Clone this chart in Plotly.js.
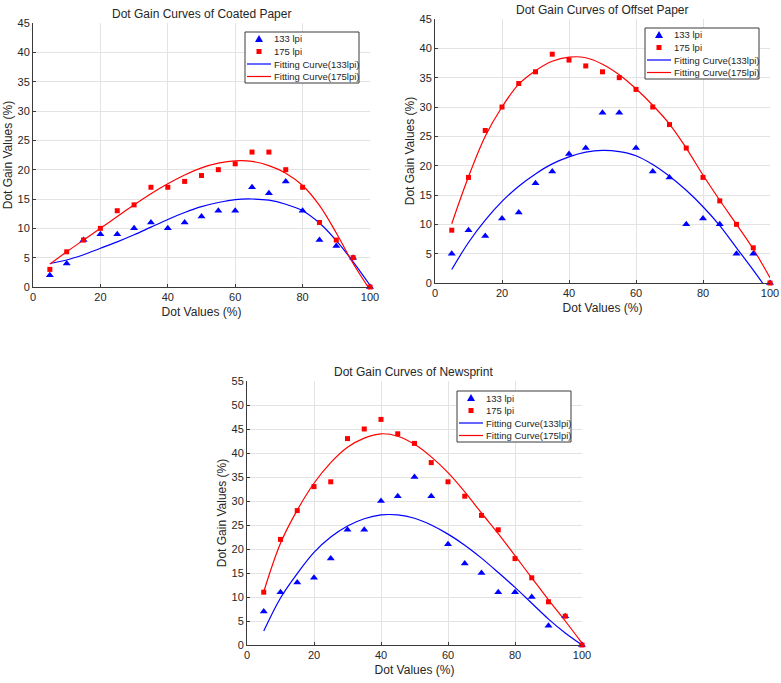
<!DOCTYPE html>
<html><head><meta charset="utf-8">
<script src="https://cdn.plot.ly/plotly-3.0.1.min.js"></script>
<style>html,body{margin:0;padding:0;background:#fff}#chart{width:781px;height:683px}</style>
</head><body><div id="chart"></div>
<script>
// ---- data ----
const dotValues = [5,10,15,20,25,30,35,40,45,50,55,60,65,70,75,80,85,90,95,100];

const coated133 = [2,4,8,9,9,10,11,10,11,12,13,13,17,16,18,13,8,7,5,0];
const coated175 = [3,6,8,10,13,14,17,17,18,19,20,21,23,23,20,17,11,8,5,0];
const offset133 = [5,9,8,11,12,17,19,22,23,29,29,23,19,18,10,11,10,5,5,0];
const offset175 = [9,18,26,30,34,36,39,38,37,36,35,33,30,27,23,18,14,10,6,0];
const news133   = [7,11,13,14,18,24,24,30,31,35,31,21,17,15,11,11,10,4,6,0];
const news175   = [11,22,28,33,34,43,45,47,44,42,38,34,31,27,24,18,14,9,6,0];

// fitting curves (values at each dot value)
const fitX = [5,10,15,20,25,30,35,40,45,50,55,60,65,70,75,80,85,90,95,100];
const coatedFit133 = [4.0,4.6,5.5,6.6,7.7,8.9,10.2,11.5,12.7,13.7,14.4,14.9,15.0,14.8,14.1,13.0,10.9,7.9,4.3,0.3];
const coatedFit175 = [3.9,6.0,8.0,10.0,12.0,14.0,15.9,17.6,19.1,20.3,21.1,21.5,21.4,20.7,19.4,17.3,13.9,9.2,4.0,-0.5];
const offsetFit133 = [2.3,6.9,10.7,13.9,16.5,18.6,20.3,21.5,22.3,22.6,22.4,21.7,20.2,18.2,15.8,13.0,9.8,6.0,2.2,-1.8];
const offsetFit175 = [10.1,18.1,25.0,30.0,33.9,36.2,37.8,38.5,38.4,37.3,35.5,33.1,30.3,27.1,23.0,18.4,14.1,10.0,5.8,0.9];
const newsFit133   = [2.9,9.8,14.9,19.3,22.5,24.8,26.3,27.1,27.1,26.4,25.0,23.1,20.8,18.1,15.1,12.0,8.7,5.4,2.5,0.0];
const newsFit175   = [11.1,21.2,28.1,33.7,38.0,41.2,43.1,44.0,43.5,41.8,39.2,35.9,31.9,27.5,23.2,18.6,14.0,9.4,5.0,0.4];

const titles = ["Dot Gain Curves of Coated Paper","Dot Gain Curves of Offset Paper","Dot Gain Curves of Newsprint"];
const legendLabels = ["133 lpi","175 lpi","Fitting Curve(133lpi)","Fitting Curve(175lpi)"];
const xTitle = "Dot Values (%)";
const yTitle = "Dot Gain Values (%)";

// ---- layout helpers ----
const W = 781, H = 683;
const px = v => v / W;
const py = v => 1 - v / H;
const BLUE = "#0000ff", RED = "#ff0000";
const FONT = "Liberation Sans, Arial, sans-serif";

const panels = [
  {pts:[coated133,coated175], fits:[coatedFit133,coatedFit175],
   box:[33,370,23,287], ymax:45, title:[201,14], legend:[245,32]},
  {pts:[offset133,offset175], fits:[offsetFit133,offsetFit175],
   box:[435,770,19,283], ymax:45, title:[602,10], legend:[645,28]},
  {pts:[news133,news175], fits:[newsFit133,newsFit175],
   box:[247,582,381,645], ymax:55, title:[414,372], legend:[457,391]}
];

const traces = [];
const layout = {
  width: W, height: H, margin:{l:0,r:0,t:0,b:0},
  paper_bgcolor:"#fff", plot_bgcolor:"#fff", showlegend:false,
  font:{family:FONT, color:"#262626", size:11},
  annotations:[], shapes:[]
};

panels.forEach((p, i) => {
  const n = i === 0 ? "" : String(i+1);
  const xa = "x"+n, ya = "y"+n;
  traces.push({x:fitX, y:p.fits[0], xaxis:xa, yaxis:ya, mode:"lines", type:"scatter",
    line:{color:BLUE, width:1.2, shape:"spline", smoothing:1}, name:legendLabels[2]});
  traces.push({x:fitX, y:p.fits[1], xaxis:xa, yaxis:ya, mode:"lines", type:"scatter",
    line:{color:RED, width:1.2, shape:"spline", smoothing:1}, name:legendLabels[3]});
  traces.push({x:dotValues, y:p.pts[0], xaxis:xa, yaxis:ya, mode:"markers", type:"scatter",
    marker:{symbol:"triangle-up", size:7, color:BLUE}, name:legendLabels[0], cliponaxis:false});
  traces.push({x:dotValues, y:p.pts[1], xaxis:xa, yaxis:ya, mode:"markers", type:"scatter",
    marker:{symbol:"square", size:5, color:RED}, name:legendLabels[1], cliponaxis:false});

  const [l,r,t,b] = p.box;
  layout["xaxis"+n] = {domain:[px(l),px(r)], anchor:ya, range:[0,100], dtick:20, tick0:0,
    showgrid:true, gridcolor:"#e3e3e3", zeroline:false, showline:true, linecolor:"#3a3a3a", linewidth:1,
    ticks:"inside", ticklen:3, tickcolor:"#3a3a3a", tickfont:{size:11, color:"#262626"},
    title:{text:xTitle, font:{size:12, color:"#262626"}, standoff:5}};
  layout["yaxis"+n] = {domain:[py(b),py(t)], anchor:xa, range:[0,p.ymax], dtick:5, tick0:0,
    showgrid:true, gridcolor:"#e3e3e3", zeroline:false, showline:true, linecolor:"#3a3a3a", linewidth:1,
    ticks:"inside", ticklen:3, tickcolor:"#3a3a3a", tickfont:{size:11, color:"#262626"},
    title:{text:yTitle, font:{size:12, color:"#262626"}, standoff:2}};

  layout.annotations.push({text:titles[i], xref:"paper", yref:"paper", x:px(p.title[0]), y:py(p.title[1]),
    xanchor:"center", yanchor:"middle", showarrow:false, font:{size:12, color:"#262626"}});

  // legend box
  const [L,T] = p.legend;
  layout.shapes.push({type:"rect", xref:"paper", yref:"paper", x0:px(L), x1:px(L+114), y0:py(T), y1:py(T+51),
    line:{color:"#3a3a3a", width:1}, fillcolor:"#ffffff"});
  const rows = [T+7, T+19.5, T+32, T+44.5];
  const cx = L+14;
  layout.shapes.push({type:"path", xref:"paper", yref:"paper",
    path:`M ${px(cx-4)} ${py(rows[0]+3)} L ${px(cx+4)} ${py(rows[0]+3)} L ${px(cx)} ${py(rows[0]-4)} Z`,
    fillcolor:BLUE, line:{color:BLUE, width:0}});
  layout.shapes.push({type:"rect", xref:"paper", yref:"paper",
    x0:px(cx-2.5), x1:px(cx+2.5), y0:py(rows[1]-2.5), y1:py(rows[1]+2.5),
    fillcolor:RED, line:{color:RED, width:0}});
  layout.shapes.push({type:"line", xref:"paper", yref:"paper", x0:px(L+2), x1:px(L+26), y0:py(rows[2]), y1:py(rows[2]),
    line:{color:BLUE, width:1.2}});
  layout.shapes.push({type:"line", xref:"paper", yref:"paper", x0:px(L+2), x1:px(L+26), y0:py(rows[3]), y1:py(rows[3]),
    line:{color:RED, width:1.2}});
  legendLabels.forEach((lab, k) => {
    layout.annotations.push({text:lab, xref:"paper", yref:"paper", x:px(L+27), y:py(rows[k]),
      xanchor:"left", yanchor:"middle", showarrow:false, font:{size:9.5, color:"#262626"}});
  });
});

Plotly.newPlot("chart", traces, layout, {displayModeBar:false, staticPlot:true});
</script></body></html>
